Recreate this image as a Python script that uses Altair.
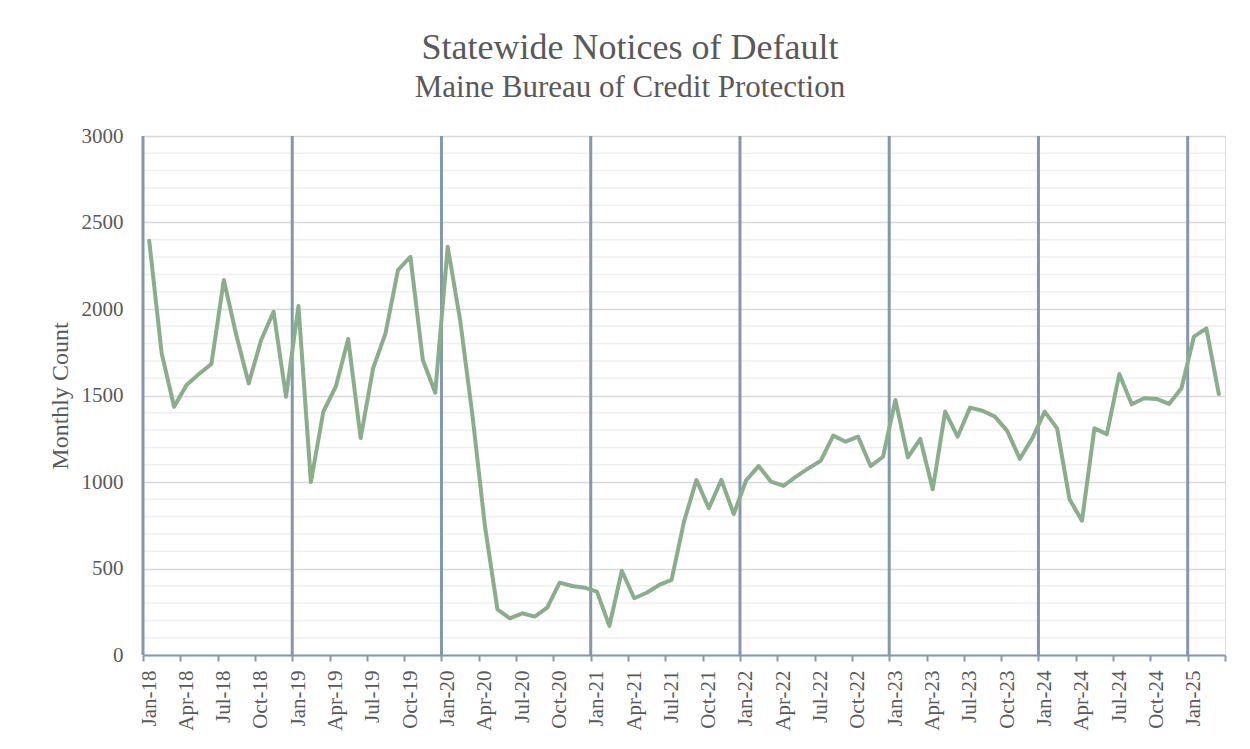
import json
import altair as alt
import pandas as pd

# Monthly notices of default, Jan-2018 .. Mar-2025
counts = [
    2395, 1744, 1435, 1561, 1624, 1682, 2168, 1850, 1570, 1821, 1984, 1493,   # 2018
    2017, 1000, 1406, 1551, 1827, 1254, 1657, 1859, 2225, 2302, 1705, 1516,   # 2019
    2360, 1936, 1378, 742, 264, 212, 241, 222, 274, 418, 399, 389,           # 2020
    366, 168, 487, 328, 360, 405, 434, 771, 1012, 848, 1012, 815,            # 2021
    1010, 1092, 1002, 977, 1031, 1079, 1123, 1268, 1233, 1262, 1092, 1146,   # 2022
    1474, 1143, 1249, 958, 1407, 1262, 1430, 1412, 1378, 1294, 1134, 1252,   # 2023
    1407, 1310, 900, 776, 1310, 1277, 1624, 1449, 1484, 1480, 1451, 1542,    # 2024
    1840, 1888, 1509,                                                         # 2025
]

tick_labels = [
    "Jan-18", "Apr-18", "Jul-18", "Oct-18",
    "Jan-19", "Apr-19", "Jul-19", "Oct-19",
    "Jan-20", "Apr-20", "Jul-20", "Oct-20",
    "Jan-21", "Apr-21", "Jul-21", "Oct-21",
    "Jan-22", "Apr-22", "Jul-22", "Oct-22",
    "Jan-23", "Apr-23", "Jul-23", "Oct-23",
    "Jan-24", "Apr-24", "Jul-24", "Oct-24",
    "Jan-25",
]
tick_months = [3 * i for i in range(len(tick_labels) + 1)]  # month index of each tick (last one unlabeled)
year_starts = [0, 12, 24, 36, 48, 60, 72, 84]
major_y = [0, 500, 1000, 1500, 2000, 2500, 3000]
minor_y = [v for v in range(100, 3000, 100) if v % 500 != 0]

df = pd.DataFrame({"m": [i + 0.5 for i in range(len(counts))], "count": counts})
years_df = pd.DataFrame({"m": year_starts})
minor_df = pd.DataFrame({"count": minor_y})

FONT = "Liberation Serif"
TXT = "#595959"
BLUEGREY = "#8497B0"
N_MONTHS = len(counts)

xscale = alt.Scale(domain=[0, N_MONTHS], nice=False, zero=False)
yscale = alt.Scale(domain=[0, 3000], nice=False)

label_expr = f"{json.dumps(tick_labels)}[round(datum.value/3)] || ''"

x_axis = alt.Axis(
    values=tick_months,
    labelExpr=label_expr,
    labelAngle=270,
    labelFont=FONT,
    labelFontSize=21,
    labelColor=TXT,
    labelOffset=6,
    labelPadding=9,
    labelOverlap=False,
    labelBound=False,
    labelFlush=False,
    grid=False,
    domainColor=BLUEGREY,
    domainWidth=2,
    tickColor=BLUEGREY,
    tickWidth=2,
    tickSize=6,
    title=None,
)

y_axis = alt.Axis(
    values=major_y,
    format="d",
    grid=True,
    gridColor="#D9D9D9",
    gridWidth=1.5,
    ticks=False,
    domain=False,
    labelFont=FONT,
    labelFontSize=21,
    labelColor=TXT,
    labelPadding=20,
    title="Monthly Count",
    titleFont=FONT,
    titleFontSize=24,
    titleFontWeight="normal",
    titleColor=TXT,
    titlePadding=9,
)

minor = alt.Chart(minor_df).mark_rule(color="#EFEFEF", strokeWidth=1.5).encode(
    y=alt.Y("count:Q", scale=yscale, axis=y_axis),
)

years = alt.Chart(years_df).mark_rule(color=BLUEGREY, strokeWidth=3).encode(
    x=alt.X("m:Q", scale=xscale, axis=x_axis),
)

line = alt.Chart(df).mark_line(
    color="#89AF8A", strokeWidth=4, strokeJoin="round", strokeCap="round"
).encode(
    x=alt.X("m:Q", scale=xscale, axis=x_axis),
    y=alt.Y("count:Q", scale=yscale, axis=y_axis),
)

chart = (
    alt.layer(minor, years, line)
    .properties(
        width=1082,
        height=519,
        autosize=alt.AutoSizeParams(type="none"),
        padding={"left": 135, "top": 128, "right": 17, "bottom": 86},
        title=alt.TitleParams(
            text="Statewide Notices of Default",
            subtitle="Maine Bureau of Credit Protection",
            font=FONT,
            fontSize=36,
            fontWeight="normal",
            color=TXT,
            subtitleFont=FONT,
            subtitleFontSize=31,
            subtitleColor=TXT,
            subtitlePadding=6,
            anchor="middle",
            dx=-54,
            offset=21,
        ),
    )
    .configure_view(strokeOpacity=0, strokeWidth=0)
    .configure(background="white")
)

chart.save("out.html", embed_options={"renderer": "svg", "actions": False})
